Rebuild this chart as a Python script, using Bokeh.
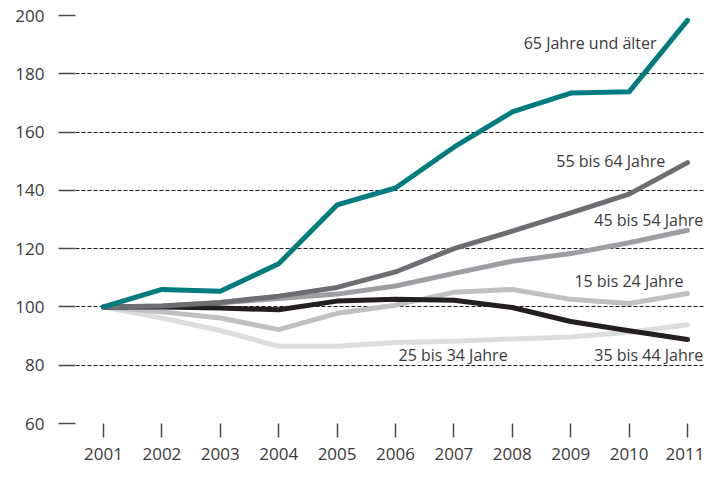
from bokeh.plotting import figure
from bokeh.models import FixedTicker, Range1d, Label
from bokeh.embed import file_html
from bokeh.resources import INLINE

years = [2001, 2002, 2003, 2004, 2005, 2006, 2007, 2008, 2009, 2010, 2011]
age_65_plus = [100, 106.0, 105.4, 114.8, 135.0, 140.8, 154.8, 166.9, 173.4, 173.8, 198.3]
age_55_64 = [100, 100.3, 101.5, 103.7, 106.7, 112.0, 120.0, 126.0, 132.3, 138.7, 149.5]
age_45_54 = [100, 100.3, 101.4, 102.9, 104.4, 107.2, 111.5, 115.7, 118.3, 122.0, 126.3]
age_15_24 = [100, 98.3, 96.2, 92.2, 97.8, 100.6, 105.0, 106.0, 102.6, 101.2, 104.6]
age_35_44 = [100, 100.0, 99.6, 99.0, 102.0, 102.6, 102.3, 99.8, 95.0, 91.8, 88.8]
age_25_34 = [100, 96.2, 91.9, 86.5, 86.5, 87.8, 88.2, 89.0, 89.7, 91.3, 93.9]

y_ticks = [60, 80, 100, 120, 140, 160, 180, 200]

series = [
    (age_25_34, "#dcddde", "25 bis 34 Jahre"),
    (age_15_24, "#bfc0c2", "15 bis 24 Jahre"),
    (age_45_54, "#9d9ea1", "45 bis 54 Jahre"),
    (age_35_44, "#231f20", "35 bis 44 Jahre"),
    (age_55_64, "#6d6e71", "55 bis 64 Jahre"),
    (age_65_plus, "#007b80", "65 Jahre und älter"),
]

label_names = ["65 Jahre und älter", "55 bis 64 Jahre", "45 bis 54 Jahre",
               "15 bis 24 Jahre", "25 bis 34 Jahre", "35 bis 44 Jahre"]
label_x = [2010.47, 2010.62, 2011.27, 2010.93, 2007.92, 2011.27]
label_y = [190.4, 150.0, 129.8, 108.9, 83.6, 83.6]

FONT = "Open Sans"
TXT = "#3a3a3a"

p = figure(frame_width=629, frame_height=408, output_backend="svg", toolbar_location=None,
           x_range=Range1d(2000.521, 2011.291), y_range=Range1d(60, 200))
p.min_border_left = 75
p.min_border_right = 0
p.min_border_top = 15
p.min_border_bottom = 47
p.outline_line_color = None
p.background_fill_color = "white"
p.border_fill_color = "white"

# grid
p.xgrid.grid_line_color = None
p.ygrid.ticker = FixedTicker(ticks=y_ticks)
p.ygrid.grid_line_color = "#1a1a1a"
p.ygrid.grid_line_width = 1
p.ygrid.grid_line_dash = "4 2"

# y axis
p.yaxis.ticker = FixedTicker(ticks=y_ticks)
p.yaxis.axis_line_color = None
p.yaxis.major_tick_out = 17
p.yaxis.major_tick_in = 0
p.yaxis.major_tick_line_color = "#4a4a4a"
p.yaxis.major_tick_line_width = 1.5
p.yaxis.minor_tick_line_color = None
p.yaxis.major_label_standoff = 14
p.yaxis.major_label_text_font = FONT
p.yaxis.major_label_text_font_size = "17px"
p.yaxis.major_label_text_color = TXT

# x axis
p.xaxis.ticker = FixedTicker(ticks=years)
p.xaxis.axis_line_color = None
p.xaxis.major_tick_out = 14
p.xaxis.major_tick_in = 0
p.xaxis.major_tick_line_color = "#4a4a4a"
p.xaxis.major_tick_line_width = 1.5
p.xaxis.minor_tick_line_color = None
p.xaxis.major_label_standoff = 10
p.xaxis.major_label_text_font = FONT
p.xaxis.major_label_text_font_size = "17px"
p.xaxis.major_label_text_color = TXT

for vals, color, name in series:
    p.line(years, vals, line_color=color, line_width=5,
           line_cap="round", line_join="round")

for txt, x, y in zip(label_names, label_x, label_y):
    p.add_layout(Label(x=x, y=y, text=txt, text_align="right", text_baseline="middle",
                       text_font=FONT, text_font_size="16px", text_color=TXT))

open("out.html", "w").write(file_html(p, INLINE))
